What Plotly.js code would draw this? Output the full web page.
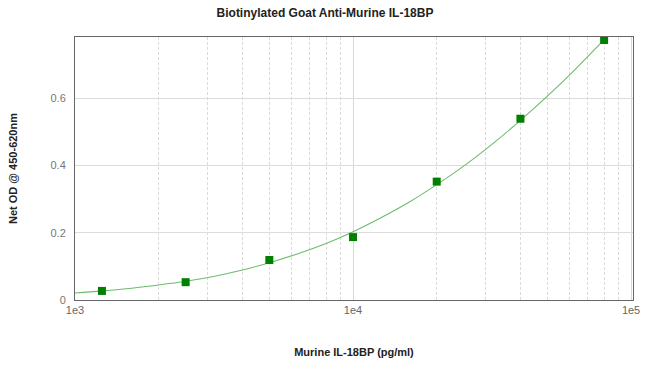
<!DOCTYPE html>
<html>
<head>
<meta charset="utf-8">
<script src="https://cdn.plot.ly/plotly-3.0.1.min.js"></script>
<style>html,body{margin:0;padding:0;background:#fff;}#chart{width:650px;height:372px;}</style>
</head>
<body>
<div id="chart"></div>
<script>
// Measured standards
const concentrations = [1250, 2500, 5000, 10000, 20000, 40000, 80000];
const netOD = [0.027, 0.053, 0.119, 0.187, 0.352, 0.539, 0.773];

// Fitted curve
const curveX = [1000, 1250, 1600, 2000, 2500, 3150, 4000, 5000, 6300, 8000, 10000, 12500, 16000, 20000, 25000, 31500, 40000, 50000, 63000, 80000];
const curveY = [0.021, 0.027, 0.035, 0.0445, 0.0555, 0.070, 0.089, 0.111, 0.137, 0.168, 0.203, 0.243, 0.292, 0.343, 0.398, 0.462, 0.534, 0.606, 0.686, 0.774];

const xTickVals = [1000, 10000, 100000];
const xTickText = ['1e3', '1e4', '1e5'];
const yTickVals = [0, 0.2, 0.4, 0.6];
const yTickText = ['0', '0.2', '0.4', '0.6'];

const traces = [
  {x: curveX, y: curveY, type: 'scatter', mode: 'lines', line: {color: '#6cbc6c', width: 1.1, shape: 'spline', smoothing: 1}, hoverinfo: 'skip'},
  {x: concentrations, y: netOD, type: 'scatter', mode: 'markers', marker: {symbol: 'square', color: '#008000', size: 8}}
];

const layout = {
  width: 650, height: 372,
  margin: {l: 75, r: 17, t: 37, b: 72},
  paper_bgcolor: '#fff', plot_bgcolor: '#fff',
  showlegend: false,
  font: {family: 'Arial, Liberation Sans, sans-serif', size: 11, color: '#666'},
  title: {text: '<b>Biotinylated Goat Anti-Murine IL-18BP</b>', font: {size: 12, color: '#222'}, x: 0.5, xanchor: 'center', y: 0.965, yanchor: 'middle'},
  xaxis: {
    type: 'log', range: [3, 5.007],
    tickvals: xTickVals, ticktext: xTickText,
    showgrid: true, gridcolor: '#d8d8d8', gridwidth: 1,
    minor: {dtick: 'D1', showgrid: true, gridcolor: '#dadada', griddash: '3px,2px', gridwidth: 1, ticks: ''},
    showline: true, linecolor: '#666', linewidth: 1, mirror: true,
    ticks: '', zeroline: false,
    tickfont: {size: 11, color: '#666'},
    title: {text: '<b>Murine IL-18BP (pg/ml)</b>', font: {size: 11, color: '#222'}, standoff: 33}
  },
  yaxis: {
    range: [0, 0.782],
    tickvals: yTickVals, ticktext: yTickText,
    showgrid: true, gridcolor: '#dcdcdc', gridwidth: 1,
    showline: true, linecolor: '#666', linewidth: 1, mirror: true,
    ticks: '', zeroline: false,
    tickfont: {size: 11, color: '#777'},
    ticklabelstandoff: 6,
    title: {text: '<b>Net OD @ 450-620nm</b>', font: {size: 11, color: '#222'}, standoff: 30}
  }
};

Plotly.newPlot('chart', traces, layout, {displayModeBar: false, staticPlot: true});
</script>
</body>
</html>
